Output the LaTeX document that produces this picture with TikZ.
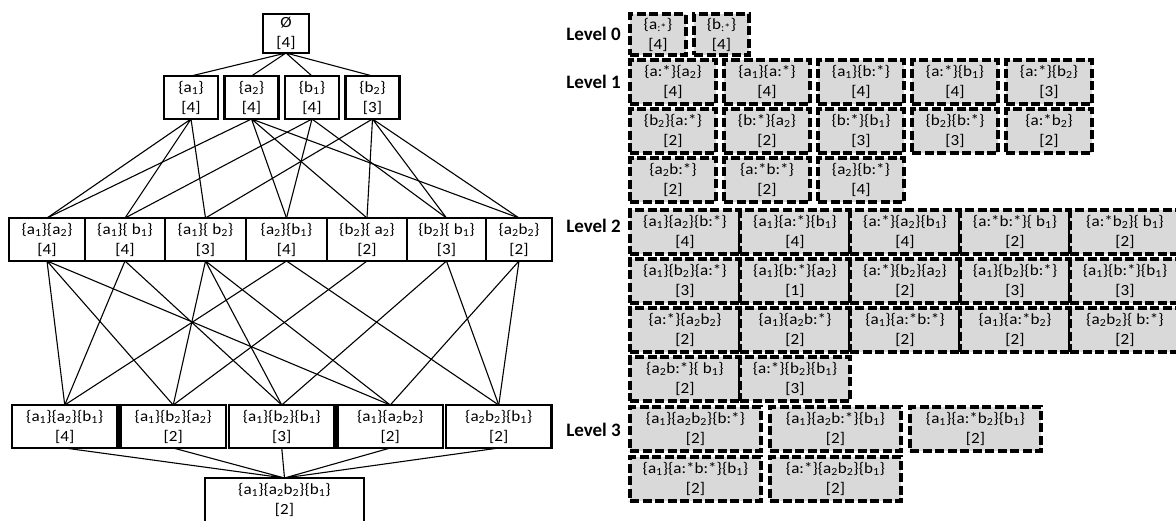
\documentclass[tikz,border=0pt]{standalone}
\usepackage{fontspec}
\setmainfont{Carlito}
\newfontfamily\cellfamily{Carlito}[FakeStretch=1.1]
\usepackage{tikz}
\usetikzlibrary{positioning}

\definecolor{cellfill}{HTML}{D9D9D9}
\newcommand\sbs[1]{\textsubscript{#1}}
\newcommand\cnt[1]{[#1]}
\newcommand\cellfont{\cellfamily\fontsize{15.5}{20}\selectfont}

\tikzset{
  latbox/.style={draw, line width=2.9pt, inner sep=0pt, outer sep=0pt,
    minimum height=43pt, align=center, font=\cellfont},
  latedge/.style={line width=1.1pt},
  patbox/.style={draw, fill=cellfill, line width=3.1pt, dash pattern=on 9pt off 3.5pt,
    inner sep=0pt, outer sep=0pt, minimum height=44pt, align=center, font=\cellfont},
  lonecell/.style={patbox, minimum width=86pt},
  ltwocell/.style={patbox, minimum width=110pt},
  lthreecell/.style={patbox, minimum width=131pt},
  levellabel/.style={anchor=east, inner sep=0pt, font=\fontsize{19}{22}\selectfont\bfseries},
}

\begin{document}
\begin{tikzpicture}[x=1pt, y=-1pt]
\useasboundingbox (0,0) rectangle (1176,520);

% lattice of patterns
\node[latbox, minimum width=46pt, minimum height=39pt] (root) at (286,33.5) {Ø\\\cnt{4}};

\node[latbox, minimum width=54pt] (a1) at (191,97.5) {\{a\sbs{1}\}\\\cnt{4}};
\node[latbox, minimum width=54pt, right=6.5pt of a1] (a2) {\{a\sbs{2}\}\\\cnt{4}};
\node[latbox, minimum width=54pt, right=6.5pt of a2] (b1) {\{b\sbs{1}\}\\\cnt{4}};
\node[latbox, minimum width=54pt, right=6.5pt of b1] (b2) {\{b\sbs{2}\}\\\cnt{3}};

\node[latbox, minimum width=76pt, anchor=west] (a1a2) at (9,239.5) {\{a\sbs{1}\}\{a\sbs{2}\}\\\cnt{4}};
\node[latbox, minimum width=80pt, right=0pt of a1a2] (a1b1) {\{a\sbs{1}\}\{ b\sbs{1}\}\\\cnt{4}};
\node[latbox, minimum width=81pt, right=0pt of a1b1] (a1b2) {\{a\sbs{1}\}\{ b\sbs{2}\}\\\cnt{3}};
\node[latbox, minimum width=81pt, right=0pt of a1b2] (a2b1) {\{a\sbs{2}\}\{b\sbs{1}\}\\\cnt{4}};
\node[latbox, minimum width=80pt, right=0pt of a2b1] (b2a2) {\{b\sbs{2}\}\{ a\sbs{2}\}\\\cnt{2}};
\node[latbox, minimum width=79pt, right=0pt of b2a2] (b2b1) {\{b\sbs{2}\}\{ b\sbs{1}\}\\\cnt{3}};
\node[latbox, minimum width=66pt, right=0pt of b2b1] (a2b2) {\{a\sbs{2}b\sbs{2}\}\\\cnt{2}};

\node[latbox, minimum width=105.5pt, anchor=west] (a1a2b1) at (12,426.5) {\{a\sbs{1}\}\{a\sbs{2}\}\{b\sbs{1}\}\\\cnt{4}};
\node[latbox, minimum width=105.5pt, right=3pt of a1a2b1] (a1b2a2) {\{a\sbs{1}\}\{b\sbs{2}\}\{a\sbs{2}\}\\\cnt{2}};
\node[latbox, minimum width=105.5pt, right=3pt of a1b2a2] (a1b2b1) {\{a\sbs{1}\}\{b\sbs{2}\}\{b\sbs{1}\}\\\cnt{3}};
\node[latbox, minimum width=105.5pt, right=3pt of a1b2b1] (a1a2b2) {\{a\sbs{1}\}\{a\sbs{2}b\sbs{2}\}\\\cnt{2}};
\node[latbox, minimum width=105.5pt, right=3pt of a1a2b2] (a2b2b1) {\{a\sbs{2}b\sbs{2}\}\{b\sbs{1}\}\\\cnt{2}};

\node[latbox, minimum width=159pt, minimum height=44pt, anchor=north] (full) at (284.5,478) {\{a\sbs{1}\}\{a\sbs{2}b\sbs{2}\}\{b\sbs{1}\}\\\cnt{2}};

\draw[latedge] (root.south) -- (a1.north) (root.south) -- (a2.north)
  (root.south) -- (b1.north) (root.south) -- (b2.north);
\draw[latedge] (a1.south) -- (a1a2.north) (a1.south) -- (a1b1.north) (a1.south) -- (a1b2.north);
\draw[latedge] (a2.south) -- (a1a2.north) (a2.south) -- (a2b1.north)
  (a2.south) -- (b2a2.north) (a2.south) -- (a2b2.north);
\draw[latedge] (b1.south) -- (a1b1.north) (b1.south) -- (a2b1.north) (b1.south) -- (b2b1.north);
\draw[latedge] (b2.south) -- (a1b2.north) (b2.south) -- (b2a2.north)
  (b2.south) -- (b2b1.north) (b2.south) -- (a2b2.north);

\draw[latedge] (a1a2.south) -- (a1a2b1.north) (a1a2.south) -- (a1b2a2.north) (a1a2.south) -- (a1a2b2.north);
\draw[latedge] (a1b1.south) -- (a1a2b1.north) (a1b1.south) -- (a1b2b1.north);
\draw[latedge] (a1b2.south) -- (a1b2a2.north) (a1b2.south) -- (a1b2b1.north) (a1b2.south) -- (a1a2b2.north);
\draw[latedge] (a2b1.south) -- (a1a2b1.north) (a2b1.south) -- (a2b2b1.north);
\draw[latedge] (b2a2.south) -- (a1b2a2.north);
\draw[latedge] (b2b1.south) -- (a1b2b1.north) (b2b1.south) -- (a2b2b1.north);
\draw[latedge] (a2b2.south) -- (a1a2b2.north) (a2b2.south) -- (a2b2b1.north);

\draw[latedge] (a1a2b1.south) -- (full.north) (a1b2a2.south) -- (full.north)
  (a1b2b1.south) -- (full.north) (a1a2b2.south) -- (full.north) (a2b2b1.south) -- (full.north);

% patterns with wildcards, by level
\node[levellabel] (lv0) at (621,34) {Level 0};
\node[levellabel] (lv1) at (621,82) {Level 1};
\node[levellabel] (lv2) at (621,226) {Level 2};
\node[levellabel] (lv3) at (621,430) {Level 3};

\node[patbox, minimum width=56pt, minimum height=41pt, anchor=north west] (z1) at (630,14) {\{a\sbs{:*}\}\\\cnt{4}};
\node[patbox, minimum width=55pt, minimum height=41pt, right=8pt of z1] (z2) {\{b\sbs{:*}\}\\\cnt{4}};

\node[lonecell, anchor=north west] (p1) at (630,60) {\{a:*\}\{a\sbs{2}\}\\\cnt{4}};
\node[lonecell, right=8pt of p1] (p2) {\{a\sbs{1}\}\{a:*\}\\\cnt{4}};
\node[lonecell, right=8pt of p2] (p3) {\{a\sbs{1}\}\{b:*\}\\\cnt{4}};
\node[lonecell, right=8pt of p3] (p4) {\{a:*\}\{b\sbs{1}\}\\\cnt{4}};
\node[lonecell, right=8pt of p4] (p5) {\{a:*\}\{b\sbs{2}\}\\\cnt{3}};
\node[lonecell, below=5pt of p1] (p6) {\{b\sbs{2}\}\{a:*\}\\\cnt{2}};
\node[lonecell, right=8pt of p6] (p7) {\{b:*\}\{a\sbs{2}\}\\\cnt{2}};
\node[lonecell, right=8pt of p7] (p8) {\{b:*\}\{b\sbs{1}\}\\\cnt{3}};
\node[lonecell, right=8pt of p8] (p9) {\{b\sbs{2}\}\{b:*\}\\\cnt{3}};
\node[lonecell, right=8pt of p9] (p10) {\{a:*b\sbs{2}\}\\\cnt{2}};
\node[lonecell, below=5pt of p6] (p11) {\{a\sbs{2}b:*\}\\\cnt{2}};
\node[lonecell, right=8pt of p11] (p12) {\{a:*b:*\}\\\cnt{2}};
\node[lonecell, right=8pt of p12] (p13) {\{a\sbs{2}\}\{b:*\}\\\cnt{4}};

\node[ltwocell, anchor=north west] (q1) at (630,210) {\{a\sbs{1}\}\{a\sbs{2}\}\{b:*\}\\\cnt{4}};
\node[ltwocell, right=0pt of q1] (q2) {\{a\sbs{1}\}\{a:*\}\{b\sbs{1}\}\\\cnt{4}};
\node[ltwocell, right=0pt of q2] (q3) {\{a:*\}\{a\sbs{2}\}\{b\sbs{1}\}\\\cnt{4}};
\node[ltwocell, right=0pt of q3] (q4) {\{a:*b:*\}\{ b\sbs{1}\}\\\cnt{2}};
\node[ltwocell, right=0pt of q4] (q5) {\{a:*b\sbs{2}\}\{ b\sbs{1}\}\\\cnt{2}};
\node[ltwocell, below=5pt of q1] (q6) {\{a\sbs{1}\}\{b\sbs{2}\}\{a:*\}\\\cnt{3}};
\node[ltwocell, right=0pt of q6] (q7) {\{a\sbs{1}\}\{b:*\}\{a\sbs{2}\}\\\cnt{1}};
\node[ltwocell, right=0pt of q7] (q8) {\{a:*\}\{b\sbs{2}\}\{a\sbs{2}\}\\\cnt{2}};
\node[ltwocell, right=0pt of q8] (q9) {\{a\sbs{1}\}\{b\sbs{2}\}\{b:*\}\\\cnt{3}};
\node[ltwocell, right=0pt of q9] (q10) {\{a\sbs{1}\}\{b:*\}\{b\sbs{1}\}\\\cnt{3}};
\node[ltwocell, below=5pt of q6] (q11) {\{a:*\}\{a\sbs{2}b\sbs{2}\}\\\cnt{2}};
\node[ltwocell, right=0pt of q11] (q12) {\{a\sbs{1}\}\{a\sbs{2}b:*\}\\\cnt{2}};
\node[ltwocell, right=0pt of q12] (q13) {\{a\sbs{1}\}\{a:*b:*\}\\\cnt{2}};
\node[ltwocell, right=0pt of q13] (q14) {\{a\sbs{1}\}\{a:*b\sbs{2}\}\\\cnt{2}};
\node[ltwocell, right=0pt of q14] (q15) {\{a\sbs{2}b\sbs{2}\}\{ b:*\}\\\cnt{2}};
\node[ltwocell, below=5pt of q11] (q16) {\{a\sbs{2}b:*\}\{ b\sbs{1}\}\\\cnt{2}};
\node[ltwocell, right=0pt of q16] (q17) {\{a:*\}\{b\sbs{2}\}\{b\sbs{1}\}\\\cnt{3}};

\node[lthreecell, anchor=north west] (r1) at (630,407) {\{a\sbs{1}\}\{a\sbs{2}b\sbs{2}\}\{b:*\}\\\cnt{2}};
\node[lthreecell, right=9pt of r1] (r2) {\{a\sbs{1}\}\{a\sbs{2}b:*\}\{b\sbs{1}\}\\\cnt{2}};
\node[lthreecell, right=9pt of r2] (r3) {\{a\sbs{1}\}\{a:*b\sbs{2}\}\{b\sbs{1}\}\\\cnt{2}};
\node[lthreecell, below=6pt of r1] (r4) {\{a\sbs{1}\}\{a:*b:*\}\{b\sbs{1}\}\\\cnt{2}};
\node[lthreecell, right=9pt of r4] (r5) {\{a:*\}\{a\sbs{2}b\sbs{2}\}\{b\sbs{1}\}\\\cnt{2}};
\end{tikzpicture}
\end{document}
